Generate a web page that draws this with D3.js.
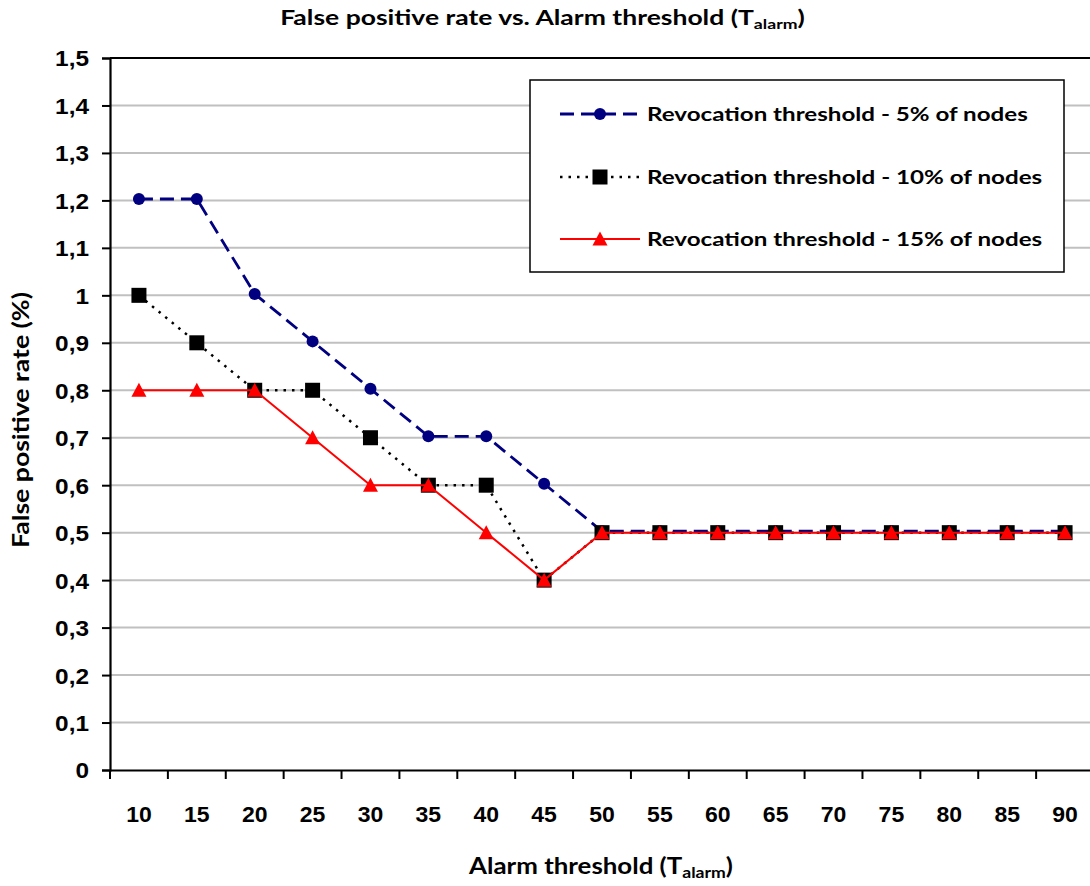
<!DOCTYPE html>
<html>
<head>
<meta charset="utf-8">
<script src="https://cdn.jsdelivr.net/npm/d3@7"></script>
<style>
  html, body { margin: 0; padding: 0; background: #fff; }
  svg { display: block; font-family: Lato, "Noto Sans", sans-serif; font-weight: bold; }
</style>
</head>
<body>
<svg id="chart" width="1090" height="886"></svg>
<script>
// Alarm threshold categories (T_alarm)
const thresholds = [10, 15, 20, 25, 30, 35, 40, 45, 50, 55, 60, 65, 70, 75, 80, 85, 90];

// False positive rate (%) for each revocation threshold
const rev5 = [1.203, 1.203, 1.003, 0.903, 0.803, 0.703, 0.703, 0.603, 0.503, 0.503, 0.503, 0.503, 0.503, 0.503, 0.503, 0.503, 0.503];
const rev10 = [1.0, 0.9, 0.8, 0.8, 0.7, 0.6, 0.6, 0.4, 0.5, 0.5, 0.5, 0.5, 0.5, 0.5, 0.5, 0.5, 0.5];
const rev15 = [0.8, 0.8, 0.8, 0.7, 0.6, 0.6, 0.5, 0.4, 0.5, 0.5, 0.5, 0.5, 0.5, 0.5, 0.5, 0.5, 0.5];

const seriesNames = [
  "Revocation threshold - 5% of nodes",
  "Revocation threshold - 10% of nodes",
  "Revocation threshold - 15% of nodes"
];

const yTicks = [0, 0.1, 0.2, 0.3, 0.4, 0.5, 0.6, 0.7, 0.8, 0.9, 1.0, 1.1, 1.2, 1.3, 1.4, 1.5];

const series = [
  { name: seriesNames[0], values: rev5, color: "#000080", dash: "14,7", width: 2.8, marker: "circle" },
  { name: seriesNames[1], values: rev10, color: "#000000", dash: "2.5,6", width: 2.5, marker: "square" },
  { name: seriesNames[2], values: rev15, color: "#ff0000", dash: null, width: 2, marker: "triangle" }
];

const svg = d3.select("#chart");
const plot = { left: 110, right: 1094, top: 58, bottom: 770 };

const x = d3.scaleBand().domain(thresholds).range([plot.left, plot.right]).paddingInner(0).paddingOuter(0);
const y = d3.scaleLinear().domain([0, 1.5]).range([plot.bottom, plot.top]);
const cx = d => x(d) + x.bandwidth() / 2;

const fmt = v => d3.format("")(+v.toFixed(1)).replace(".", ",");

// horizontal stretch that makes a sample string span a given width
function stretchFor(sample, size, width) {
  const t = svg.append("text").attr("font-size", size).text(sample);
  const w = t.node().getComputedTextLength();
  t.remove();
  return width / w;
}
const sxTickX = stretchFor("10", 22, 26.7);
const sxTickY = stretchFor("1,5", 22, 34);

// horizontal gridlines
svg.append("g")
  .selectAll("line")
  .data(yTicks.filter(t => t > 0 && t < 1.5))
  .join("line")
  .attr("x1", plot.left).attr("x2", plot.right)
  .attr("y1", d => y(d)).attr("y2", d => y(d))
  .attr("stroke", "#c0c0c0").attr("stroke-width", 2);

// top border of plot area
svg.append("line")
  .attr("x1", plot.left).attr("x2", plot.right)
  .attr("y1", y(1.5)).attr("y2", y(1.5))
  .attr("stroke", "#000").attr("stroke-width", 2);

// y axis
const yAxis = svg.append("g")
  .attr("transform", `translate(${plot.left},0)`)
  .call(d3.axisLeft(y).tickValues(yTicks).tickFormat(fmt).tickSize(8).tickPadding(13));
yAxis.select(".domain").attr("stroke-width", 2.2);
yAxis.selectAll(".tick line").attr("stroke-width", 2);
yAxis.selectAll("text")
  .attr("font-size", 22).attr("font-family", null).attr("fill", "#000")
  .attr("dy", "0.36em")
  .attr("x", -21 / sxTickY)
  .attr("transform", `scale(${sxTickY},1)`);

// x axis: ticks sit on category boundaries
const xAxis = svg.append("g")
  .attr("transform", `translate(0,${plot.bottom})`)
  .call(d3.axisBottom(x).tickSize(0).tickPadding(36));
xAxis.select(".domain").attr("stroke-width", 2.2);
xAxis.selectAll("text")
  .attr("font-size", 22).attr("font-family", null).attr("fill", "#000")
  .attr("dy", "0.74em")
  .attr("transform", `scale(${sxTickX},1)`);
svg.append("g")
  .selectAll("line")
  .data(thresholds)
  .join("line")
  .attr("x1", d => x(d)).attr("x2", d => x(d))
  .attr("y1", plot.bottom).attr("y2", plot.bottom + 9)
  .attr("stroke", "#000").attr("stroke-width", 2);

// marker drawing helper
function drawMarker(g, type, color, px, py) {
  if (type === "circle") {
    g.append("circle").attr("cx", px).attr("cy", py).attr("r", 6).attr("fill", color);
  } else if (type === "square") {
    g.append("rect").attr("x", px - 7.5).attr("y", py - 7.5).attr("width", 15).attr("height", 15).attr("fill", color);
  } else {
    g.append("path")
      .attr("d", `M${px},${py - 7.5}L${px + 7.5},${py + 6.5}L${px - 7.5},${py + 6.5}Z`)
      .attr("fill", color);
  }
}

// series lines and markers
const line = d3.line().x((d, i) => cx(thresholds[i])).y(d => y(d));
series.forEach(s => {
  const g = svg.append("g");
  g.append("path")
    .datum(s.values)
    .attr("d", line)
    .attr("fill", "none")
    .attr("stroke", s.color)
    .attr("stroke-width", s.width)
    .attr("stroke-dasharray", s.dash);
  s.values.forEach((v, i) => drawMarker(g, s.marker, s.color, cx(thresholds[i]), y(v)));
});

// text block anchored at (ax, ay), stretched horizontally to a target width
function wideText(parent, ax, ay, size, anchor, width, build, rotate) {
  const g = parent.append("g");
  const t = g.append("text").attr("font-size", size).attr("text-anchor", anchor);
  build(t);
  const sx = width / t.node().getComputedTextLength();
  g.attr("transform", `translate(${ax},${ay})${rotate ? ` rotate(${rotate})` : ""} scale(${sx},1)`);
  return t;
}

// legend
const legend = svg.append("g");
legend.append("rect")
  .attr("x", 530).attr("y", 80).attr("width", 534).attr("height", 192)
  .attr("fill", "#fff").attr("stroke", "#000").attr("stroke-width", 1.5);
const legendY = [114, 177, 239];
const legendWidths = [381, 395.5, 395.5];
series.forEach((s, i) => {
  const ly = legendY[i];
  legend.append("line")
    .attr("x1", 560).attr("x2", 640).attr("y1", ly).attr("y2", ly)
    .attr("stroke", s.color).attr("stroke-width", s.width)
    .attr("stroke-dasharray", s.dash);
  drawMarker(legend, s.marker, s.color, 600, ly);
  wideText(legend, 647, ly + 7, 18.5, "start", legendWidths[i], t => t.text(s.name));
});

// title
wideText(svg, 542.5, 25, 21, "middle", 525, t => {
  t.append("tspan").text("False positive rate vs. Alarm threshold (T");
  t.append("tspan").attr("font-size", 14).attr("dy", 4).text("alarm");
  t.append("tspan").attr("dy", -4).text(")");
});

// x axis title
wideText(svg, 601, 874, 22, "middle", 264, t => {
  t.append("tspan").text("Alarm threshold (T");
  t.append("tspan").attr("font-size", 15).attr("dy", 4).text("alarm");
  t.append("tspan").attr("dy", -4).text(")");
});

// y axis title
wideText(svg, 28.5, 420, 22, "middle", 256, t => t.text("False positive rate (%)"), -90);
</script>
</body>
</html>
